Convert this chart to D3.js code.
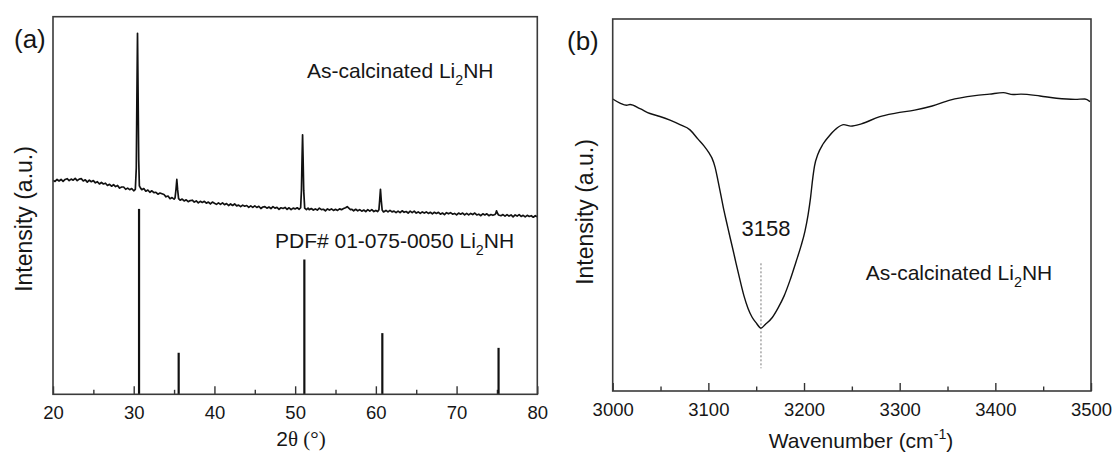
<!DOCTYPE html>
<html>
<head>
<meta charset="utf-8">
<script src="https://cdn.jsdelivr.net/npm/d3@7"></script>
<style>
  html, body { margin: 0; padding: 0; background: #fff; }
  svg { display: block; }
  text { font-family: "Liberation Sans", Arial, sans-serif; fill: #161616; }
</style>
</head>
<body>
<svg id="chart" width="1116" height="453"></svg>
<script>
// ---------------- Data ----------------
// (a) XRD pattern: [2theta (deg), intensity (a.u.)]
const xrdPattern = [
  [20.00,56.6],[20.25,56.4],[20.50,56.9],[20.75,56.5],[21.00,56.9],[21.25,56.4],[21.50,56.9],[21.75,57.1],
  [22.00,56.6],[22.25,57.0],[22.50,56.7],[22.75,57.2],[23.00,56.6],[23.25,57.0],[23.50,57.1],[23.75,56.5],
  [24.00,56.8],[24.25,56.2],[24.50,56.7],[24.75,56.3],[25.00,56.6],[25.25,56.0],[25.50,56.3],[25.75,55.7],
  [26.00,56.1],[26.25,55.7],[26.50,55.9],[26.75,55.3],[27.00,55.6],[27.25,55.1],[27.50,55.5],[27.75,55.0],
  [28.00,55.3],[28.25,54.6],[28.50,54.9],[28.75,54.9],[29.00,54.3],[29.25,54.6],[29.50,54.2],[29.75,54.5],
  [30.00,53.9],[30.20,54.3],[30.32,60],[30.40,80],[30.47,95.6],[30.54,80],[30.62,62],[30.70,55.2],[30.85,54.6],
  [31.00,54.2],[31.25,54.5],[31.50,53.8],[31.75,54.1],[32.00,53.5],[32.25,53.9],[32.50,53.4],[32.75,53.5],
  [33.00,53.0],[33.25,53.3],[33.50,53.1],[33.75,52.9],[34.00,52.3],[34.25,52.5],[34.50,51.8],[34.75,52.1],
  [35.00,51.7],[35.12,52.0],[35.24,54.3],[35.34,56.9],[35.44,54.2],[35.56,51.8],[35.75,51.4],
  [36.00,51.7],[36.25,51.2],[36.50,51.5],[36.75,51.0],[37.00,51.3],[37.25,51.4],[37.50,50.9],[37.75,51.2],
  [38.00,50.7],[38.25,51.1],[38.50,50.8],[38.75,51.1],[39.00,50.6],[39.25,50.9],[39.50,50.4],[39.75,50.9],
  [40.00,50.6],[40.25,50.3],[40.50,50.7],[40.75,50.3],[41.00,50.7],[41.25,50.2],[41.50,50.5],[41.75,50.0],
  [42.00,50.4],[42.25,50.0],[42.50,50.4],[42.75,49.9],[43.00,50.1],[43.25,49.7],[43.50,50.1],[43.75,49.8],
  [44.00,50.0],[44.25,49.5],[44.50,49.9],[44.75,49.5],[45.00,49.9],[45.25,49.5],[45.50,49.8],[45.75,49.2],
  [46.00,49.6],[46.25,49.7],[46.50,49.3],[46.75,49.6],[47.00,49.2],[47.25,49.7],[47.50,49.3],[47.75,49.5],
  [48.00,49.0],[48.25,49.4],[48.50,49.2],[48.75,49.5],[49.00,49.0],[49.25,49.4],[49.50,48.9],[49.75,49.3],
  [50.00,49.1],[50.25,49.4],[50.50,49.0],[50.68,49.4],[50.78,54],[50.86,63],[50.92,68.7],[50.98,63],[51.06,54],
  [51.18,49.3],[51.40,48.9],[51.60,49.3],[51.75,48.9],[52.00,49.2],[52.25,48.8],[52.50,49.1],[52.75,48.8],
  [53.00,49.3],[53.25,48.9],[53.50,49.0],[53.75,48.6],[54.00,49.1],[54.25,48.8],[54.50,49.1],[54.75,48.7],
  [55.00,49.0],[55.25,48.7],[55.50,49.1],[55.75,48.9],[56.00,49.2],[56.25,49.4],[56.45,49.7],[56.65,49.3],
  [56.85,48.9],[57.00,49.0],[57.25,48.6],[57.50,49.0],[57.75,48.6],[58.00,48.9],[58.25,48.5],[58.50,48.8],
  [58.75,48.4],[59.00,48.9],[59.25,48.5],[59.50,48.9],[59.75,48.4],[60.00,48.7],[60.22,48.4],[60.38,48.9],
  [60.47,51.3],[60.57,54.3],[60.67,51.3],[60.78,48.8],[60.95,48.3],[61.25,48.7],[61.50,48.3],[61.75,48.7],
  [62.00,48.3],[62.25,48.5],[62.50,48.1],[62.75,48.5],[63.00,48.1],[63.25,48.6],[63.50,48.2],[63.75,48.4],
  [64.00,48.0],[64.25,48.5],[64.50,48.1],[64.75,48.5],[65.00,48.0],[65.25,48.3],[65.50,47.9],[65.75,48.3],
  [66.00,48.0],[66.25,48.3],[66.50,47.9],[66.75,48.2],[67.00,47.8],[67.25,48.2],[67.50,47.9],[67.75,48.2],
  [68.00,47.7],[68.25,48.0],[68.50,47.6],[68.75,48.1],[69.00,47.8],[69.25,48.1],[69.50,47.7],[69.75,47.9],
  [70.00,47.5],[70.25,48.0],[70.50,47.7],[70.75,48.0],[71.00,47.5],[71.25,47.9],[71.50,47.5],[71.75,47.9],
  [72.00,47.6],[72.25,48.0],[72.50,47.5],[72.75,47.7],[73.00,47.3],[73.25,47.8],[73.50,47.5],[73.75,47.8],
  [74.00,47.3],[74.25,47.6],[74.50,47.4],[74.75,47.6],[74.85,47.9],[74.95,48.6],[75.05,48.0],[75.20,47.5],
  [75.50,47.3],[75.75,47.6],[76.00,47.2],[76.25,47.6],[76.50,47.2],[76.75,47.5],[77.00,47.0],[77.25,47.5],
  [77.50,47.2],[77.75,47.6],[78.00,47.1],[78.25,47.4],[78.50,47.0],[78.75,47.4],[79.00,47.1],[79.25,47.3],
  [79.50,46.9],[79.75,47.3],[80.00,47.0]
];
// (a) Reference card PDF# 01-075-0050 Li2NH
const refPositions   = [30.66, 35.57, 51.14, 60.80, 75.20];
const refIntensities = [49.1, 11.0, 35.7, 16.2, 12.3];
const xrdMajorTicks = [20, 30, 40, 50, 60, 70, 80];
const xrdMinorTicks = [25, 35, 45, 55, 65, 75];

// (b) FTIR spectrum: [wavenumber (cm-1), intensity (a.u.)]
const ftirSpectrum = [
  [3000,78.5],[3007.6,77.4],[3014.6,76.8],[3018.1,77.0],[3028.5,75.9],[3039,74.6],[3049.4,73.8],[3059.9,72.8],
  [3070.3,71.6],[3080.8,70.2],[3089.2,67.7],[3095.4,65.9],[3100.7,64.0],[3103.8,62.6],[3107.0,60.2],[3110.1,56.5],
  [3113.3,52.4],[3116.4,48.4],[3119.5,44.9],[3122.6,41.4],[3125.8,37.9],[3128.9,34.4],[3133.1,29.8],[3137.3,25.5],
  [3141.5,22.2],[3145.6,19.9],[3150.3,18.2],[3155.0,16.9],[3159.5,17.9],[3166.6,19.7],[3172.8,22.3],[3179.1,25.5],
  [3185.4,29.8],[3191.6,34.7],[3196.9,39.0],[3201.0,43.0],[3204.2,47.3],[3206.8,51.9],[3208.9,56.7],[3211.0,60.5],
  [3214.6,63.7],[3219.9,66.4],[3226.1,68.5],[3234.1,70.6],[3241.5,71.6],[3248.9,71.2],[3260,71.8],[3278.5,73.7],
  [3296,74.7],[3315.6,75.5],[3334,76.6],[3352.6,78.2],[3378.7,79.4],[3394,79.8],[3408.3,80.2],[3418.5,79.7],
  [3426.8,79.8],[3446.7,79.3],[3463.9,78.7],[3483.3,78.4],[3493.7,78.5],[3499,77.8]
];
const ftirPeak = 3155.0;
const ftirPeakLabel = "3158";
const ftirMajorTicks = [3000, 3100, 3200, 3300, 3400, 3500];
const ftirMinorTicks = [3050, 3150, 3250, 3350, 3450];

// ---------------- Drawing ----------------
const svg = d3.select("#chart");

function panel(opts) {
  const { left, right, top, bottom, xDomain, yDomain, major, minor } = opts;
  const g = svg.append("g");
  const x = d3.scaleLinear().domain(xDomain).range([left, right]);
  const y = d3.scaleLinear().domain(yDomain).range([bottom, top]);

  g.append("g")
    .attr("transform", `translate(0,${bottom})`)
    .call(d3.axisBottom(x).tickValues(minor).tickSizeInner(-4.5).tickSizeOuter(0).tickFormat(""))
    .call(a => a.select(".domain").remove())
    .call(a => a.selectAll("line").attr("stroke", "#333").attr("stroke-width", 1.4));
  g.append("g")
    .attr("transform", `translate(0,${bottom})`)
    .call(d3.axisBottom(x).tickValues(major).tickSizeInner(-8).tickSizeOuter(0).tickPadding(11.5).tickFormat(d3.format("d")))
    .call(a => a.select(".domain").remove())
    .call(a => a.selectAll("line").attr("stroke", "#333").attr("stroke-width", 1.4))
    .call(a => a.selectAll("text")
      .attr("font-family", '"Liberation Sans", Arial, sans-serif')
      .attr("font-size", 18.5).attr("fill", "#161616"));

  return { g, x, y };
}

function frame(p, left, right, top, bottom) {
  p.g.append("rect")
    .attr("x", left).attr("y", top)
    .attr("width", right - left).attr("height", bottom - top)
    .attr("fill", "none").attr("stroke", "#3a3a3a").attr("stroke-width", 1.6);
}

function subText(parent, x, y, parts, size, anchor) {
  const t = parent.append("text")
    .attr("x", x).attr("y", y)
    .attr("font-size", size)
    .attr("text-anchor", anchor || "start");
  parts.forEach(pt => {
    const s = t.append("tspan").text(pt.t);
    if (pt.sub) s.attr("font-size", size * 0.68).attr("dy", size * 0.32);
    if (pt.sup) s.attr("font-size", size * 0.68).attr("dy", -size * 0.45);
    if (pt.back) s.attr("dy", pt.back);
    if (pt.family) s.attr("font-family", pt.family);
  });
  return t;
}

// ---- Panel (a) ----
const A = { left: 53, right: 537.3, top: 16.7, bottom: 394.3 };
const pa = panel({ ...A, xDomain: [20, 80], yDomain: [0, 100], major: xrdMajorTicks, minor: xrdMinorTicks });

pa.g.selectAll("line.ref")
  .data(refPositions.map((p, i) => ({ p, v: refIntensities[i] })))
  .join("line")
  .attr("class", "ref")
  .attr("x1", d => pa.x(d.p)).attr("x2", d => pa.x(d.p))
  .attr("y1", pa.y(0)).attr("y2", d => pa.y(d.v))
  .attr("stroke", "#111").attr("stroke-width", 2.2);

pa.g.append("path")
  .datum(xrdPattern)
  .attr("fill", "none")
  .attr("stroke", "#111")
  .attr("stroke-width", 1.7)
  .attr("stroke-linejoin", "round")
  .attr("d", d3.line().x(d => pa.x(d[0])).y(d => pa.y(d[1])));

frame(pa, A.left, A.right, A.top, A.bottom);

svg.append("text").attr("x", 14).attr("y", 48).attr("font-size", 26).text("(a)");

subText(svg, 307, 78.3, [{ t: "As-calcinated Li" }, { t: "2", sub: true }, { t: "NH", back: -21 * 0.32 }], 21);
subText(svg, 275, 248.3, [{ t: "PDF# 01-075-0050 Li" }, { t: "2", sub: true }, { t: "NH", back: -21 * 0.32 }], 21);

svg.append("text")
  .attr("transform", "translate(24,219) rotate(-90)")
  .attr("dy", "0.35em").attr("text-anchor", "middle").attr("font-size", 23)
  .text("Intensity (a.u.)");

subText(svg, 301, 446, [
  { t: "2" },
  { t: "θ (°)", family: '"Liberation Serif", "Times New Roman", serif' }
], 21, "middle");

// ---- Panel (b) ----
const B = { left: 612.7, right: 1091, top: 19, bottom: 391 };
const pb = panel({ ...B, xDomain: [3000, 3500], yDomain: [0, 100], major: ftirMajorTicks, minor: ftirMinorTicks });

pb.g.append("line")
  .attr("x1", pb.x(ftirPeak)).attr("x2", pb.x(ftirPeak))
  .attr("y1", 263.3).attr("y2", 368.3)
  .attr("stroke", "#777").attr("stroke-width", 1).attr("stroke-dasharray", "2,2");

pb.g.append("path")
  .datum(ftirSpectrum)
  .attr("fill", "none")
  .attr("stroke", "#111")
  .attr("stroke-width", 1.4)
  .attr("stroke-linejoin", "round")
  .attr("d", d3.line().x(d => pb.x(d[0])).y(d => pb.y(d[1])).curve(d3.curveMonotoneX));

frame(pb, B.left, B.right, B.top, B.bottom);

svg.append("text").attr("x", 567).attr("y", 50).attr("font-size", 26).text("(b)");

svg.append("text").attr("x", 766).attr("y", 236).attr("font-size", 22)
  .attr("text-anchor", "middle").text(ftirPeakLabel);

subText(svg, 865.7, 280, [{ t: "As-calcinated Li" }, { t: "2", sub: true }, { t: "NH", back: -21 * 0.32 }], 21);

svg.append("text")
  .attr("transform", "translate(585,212) rotate(-90)")
  .attr("dy", "0.35em").attr("text-anchor", "middle").attr("font-size", 23)
  .text("Intensity (a.u.)");

subText(svg, 861, 448, [
  { t: "Wavenumber (cm" },
  { t: "-1", sup: true },
  { t: ")", back: 21 * 0.45 }
], 21, "middle");
</script>
</body>
</html>
